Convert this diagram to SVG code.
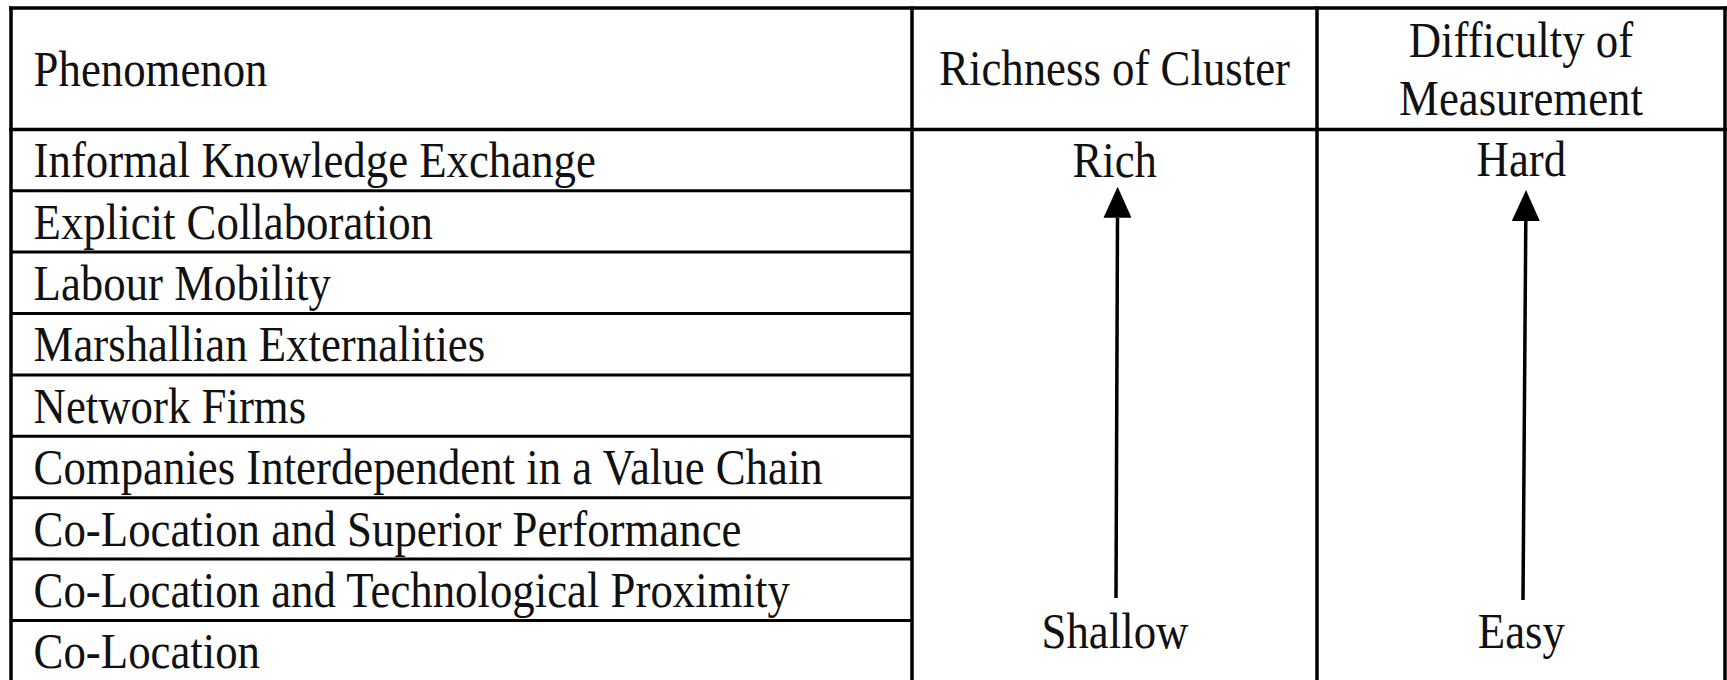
<svg xmlns="http://www.w3.org/2000/svg" width="1727" height="680" viewBox="0 0 1727 680">
  <style>
    .grid { stroke: #000; stroke-width: 3.5; fill: none; }
    .row { stroke: #000; stroke-width: 3; fill: none; }
    .t { font-family: "Liberation Serif", "Times New Roman", serif; font-size: 50px; fill: #111; }
    .c { text-anchor: middle; }
    .arrow { stroke: #000; stroke-width: 3.5; fill: none; }
  </style>
  <defs>
    <marker id="ah" markerUnits="userSpaceOnUse" viewBox="0 0 31 28" markerWidth="31" markerHeight="28" refX="0" refY="14" orient="auto">
      <path d="M0,0 L31,14 L0,28 z" fill="#000"/>
    </marker>
  </defs>
  <rect x="0" y="0" width="1727" height="680" fill="#fff"/>

  <g id="table">
    <line class="grid" x1="9" y1="8" x2="1727" y2="8"/>
    <line class="grid" x1="11" y1="6.5" x2="11" y2="680"/>
    <line class="grid" x1="1725" y1="6.5" x2="1725" y2="680"/>
    <line class="grid" x1="912" y1="6.5" x2="912" y2="680"/>
    <line class="grid" x1="1317" y1="6.5" x2="1317" y2="680"/>
    <line class="grid" x1="9" y1="129.5" x2="1727" y2="129.5"/>
    <line class="row" x1="11" y1="190.7" x2="912" y2="190.7"/>
    <line class="row" x1="11" y1="252.1" x2="912" y2="252.1"/>
    <line class="row" x1="11" y1="313.5" x2="912" y2="313.5"/>
    <line class="row" x1="11" y1="374.9" x2="912" y2="374.9"/>
    <line class="row" x1="11" y1="436.3" x2="912" y2="436.3"/>
    <line class="row" x1="11" y1="497.7" x2="912" y2="497.7"/>
    <line class="row" x1="11" y1="559.1" x2="912" y2="559.1"/>
    <line class="row" x1="11" y1="620.5" x2="912" y2="620.5"/>
  </g>

  <g transform="scale(0.896,1)">
    <g id="h-phenomenon"><text class="t" x="37.5" y="86">Phenomenon</text></g>
    <g id="h-richness"><text class="t c" x="1243.9" y="85">Richness of Cluster</text></g>
    <g id="h-difficulty"><text class="t c" x="1697.5" y="56.7">Difficulty of</text><text class="t c" x="1697.5" y="115">Measurement</text></g>

    <g id="r1"><text class="t" x="37.5" y="177.2">Informal Knowledge Exchange</text></g>
    <g id="r2"><text class="t" x="37.5" y="238.6">Explicit Collaboration</text></g>
    <g id="r3"><text class="t" x="37.5" y="300">Labour Mobility</text></g>
    <g id="r4"><text class="t" x="37.5" y="361.4">Marshallian Externalities</text></g>
    <g id="r5"><text class="t" x="37.5" y="422.8">Network Firms</text></g>
    <g id="r6"><text class="t" x="37.5" y="484.2">Companies Interdependent in a Value Chain</text></g>
    <g id="r7"><text class="t" x="37.5" y="545.6">Co-Location and Superior Performance</text></g>
    <g id="r8"><text class="t" x="37.5" y="607">Co-Location and Technological Proximity</text></g>
    <g id="r9"><text class="t" x="37.5" y="668.4">Co-Location</text></g>

    <g id="rich"><text class="t c" x="1244.1" y="176.7">Rich</text></g>
    <g id="shallow"><text class="t c" x="1244.4" y="648">Shallow</text></g>
    <g id="hard"><text class="t c" x="1698" y="176">Hard</text></g>
    <g id="easy"><text class="t c" x="1698" y="648">Easy</text></g>
  </g>

  <g id="connectors">
    <line class="arrow" x1="1116" y1="598" x2="1117.5" y2="217.7" marker-end="url(#ah)"/>
    <line class="arrow" x1="1523" y1="600" x2="1525.8" y2="221" marker-end="url(#ah)"/>
  </g>
</svg>
